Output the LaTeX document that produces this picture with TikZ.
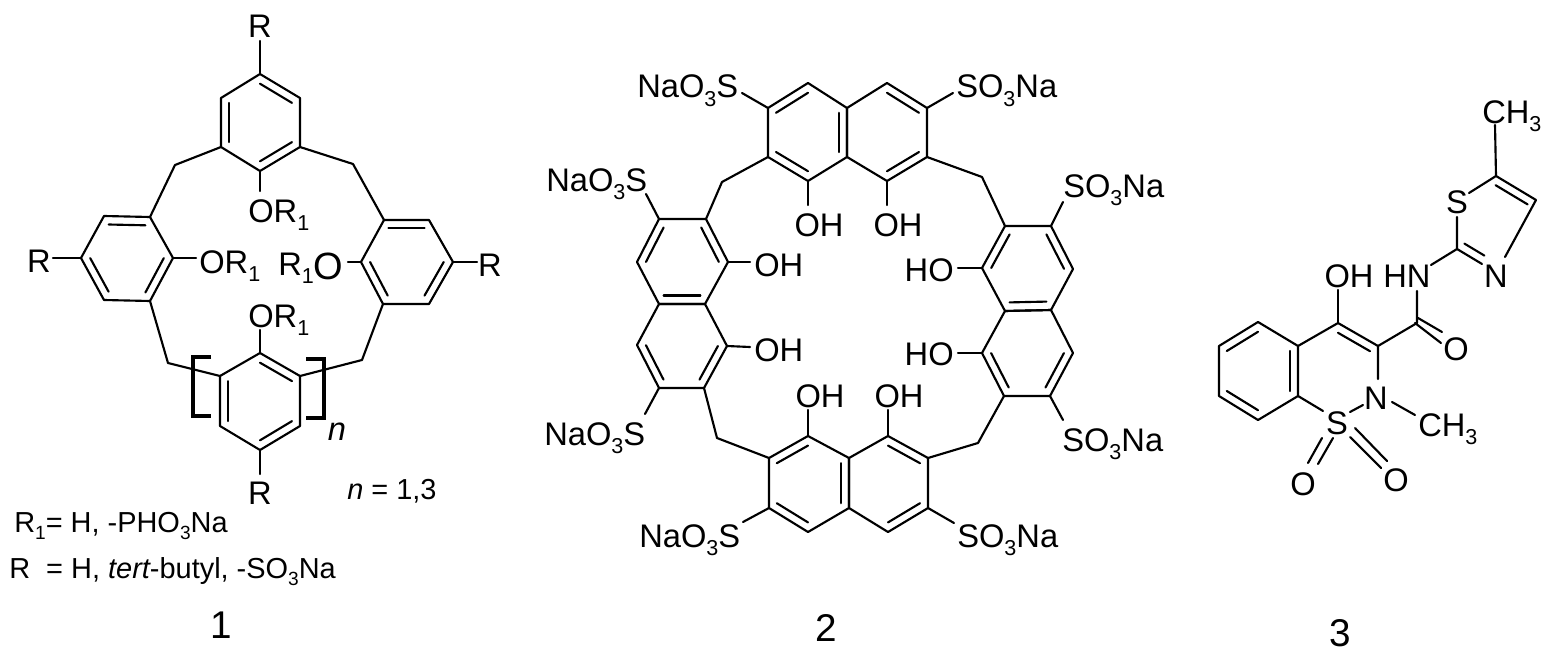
\documentclass[tikz,border=0pt]{standalone}
\usepackage{fontspec}
\usepackage{graphicx}
\setmainfont{Liberation Sans}
\usetikzlibrary{calc}
\newcommand\sbb[1]{\raisebox{-.25em}{\scalebox{.66}{#1}}}
\newcommand\atoms[1]{\foreach \n/\x/\y in {#1}{\coordinate (\n) at (\x,\y);}}
% ring: name, six vertices in order; centre = midpoint of vertices 1 and 4
\newcommand\ringat[7]{%
  \coordinate (#11) at (#2);\coordinate (#12) at (#3);\coordinate (#13) at (#4);
  \coordinate (#14) at (#5);\coordinate (#15) at (#6);\coordinate (#16) at (#7);
  \coordinate (#1c) at ($(#11)!.5!(#14)$);
  \draw[bond] (#11)--(#12)--(#13)--(#14)--(#15)--(#16)--cycle;}
\newcommand\dbl[3]{\draw[bond] ($(#1c)!.8!(#1#2)$)--($(#1c)!.8!(#1#3)$);}
\newcommand\dbc[3]{\draw[bond] ($(#1)!.8!(#2)$)--($(#1)!.8!(#3)$);}
\tikzset{
  bond/.style={line width=1.6pt,line cap=round,line join=round},
  brack/.style={line width=2.5pt,line join=miter},
  lab/.style={inner sep=0pt,font=\fontsize{24.5}{24.5}\selectfont},
  txt/.style={inner sep=0pt,font=\fontsize{21.7}{21.7}\selectfont},
  num/.style={inner sep=0pt,font=\fontsize{29}{29}\selectfont},
}
\begin{document}
\begin{tikzpicture}[x=0.75pt,y=-0.75pt]
\useasboundingbox (0,0) rectangle (1552,660);
%% ---------- compound 1 ----------
\ringat{t}{260,74}{300,98}{300,147}{260,171}{221,147}{221,98}
\dbl{t}{1}{2}\dbl{t}{3}{4}\dbl{t}{5}{6}
\ringat{l}{104,216}{150,217}{173,258}{150,301}{104,300}{81,258}
\dbl{l}{1}{2}\dbl{l}{3}{4}\dbl{l}{5}{6}
\ringat{r}{384,220}{429,220}{453,262}{429,304}{383,304}{361,262}
\dbl{r}{1}{2}\dbl{r}{3}{4}\dbl{r}{5}{6}
\ringat{u}{260,353}{300,376}{300,426}{260,450}{220,426}{220,376}
\dbl{u}{1}{2}\dbl{u}{3}{4}\dbl{u}{5}{6}
\atoms{m1/175/165,m2/353/164,m3/168/363,m4/362/360,
  e1/260/41,e2/260/191,e3/53/258,e4/196/258,e5/348/262,e6/477/262,e7/260/330,e8/260/474,
  bl1/211/357,bl2/193/357,bl3/193/416,bl4/211/416,
  br1/306/359,br2/324/359,br3/324/418,br4/306/418}
\draw[bond] (t5)--(m1)--(l2);
\draw[bond] (t3)--(m2)--(r1);
\draw[bond] (l4)--(m3)--(u6);
\draw[bond] (r5)--(m4)--(u2);
\draw[bond] (t1)--(e1);
\draw[bond] (t4)--(e2);
\draw[bond] (l6)--(e3);
\draw[bond] (l3)--(e4);
\draw[bond] (r6)--(e5);
\draw[bond] (r3)--(e6);
\draw[bond] (u1)--(e7);
\draw[bond] (u4)--(e8);
\draw[brack] (bl1)--(bl2)--(bl3)--(bl4);
\draw[brack] (br1)--(br2)--(br3)--(br4);
\node[lab,anchor=base] (rTop) at (260,38) {R};
\node[lab,anchor=base west] (orTop) at (248,222) {OR\sbb{1}};
\node[lab,anchor=base] (rLeft) at (39,272) {R};
\node[lab,anchor=base west] (orLeft) at (199,273) {OR\sbb{1}};
\node[lab,anchor=base west] (orRight) at (278,275) {R\sbb{1}\raisebox{-3pt}{\fontsize{28.5}{28.5}\selectfont O}};
\node[lab,anchor=base] (rRight) at (490,276) {R};
\node[lab,anchor=base west] (orBot) at (248,327) {OR\sbb{1}};
\node[lab,anchor=base] (rBot) at (260,504) {R};
\node[lab,anchor=base] (nIdx) at (337,440) {\itshape n};
\node[txt,anchor=base west] (nVal) at (347,499) {\itshape n\upshape\ = 1,3};
\node[txt,anchor=base west] (defA) at (14,532) {R\sbb{1}= H, -PHO\sbb{3}Na};
\node[txt,anchor=base west] (defB) at (9,578) {R\ \ = H, \itshape tert\upshape-butyl, -SO\sbb{3}Na};
\node[num] (cpdA) at (221,625) {1};
%% ---------- compound 2 ----------
\ringat{a}{808,83}{847,108}{847,157}{808,181}{768,157}{768,108}
\dbl{a}{6}{1}\dbl{a}{4}{5}\dbl{a}{2}{3}
\ringat{b}{887,83}{927,108}{927,157}{887,181}{847,157}{847,108}
\dbl{b}{1}{2}\dbl{b}{3}{4}
\ringat{c}{659,219}{706,219}{728,262}{705,304}{659,304}{637,262}
\dbl{c}{2}{3}\dbl{c}{6}{1}\dbl{c}{4}{5}
\ringat{d}{659,304}{705,304}{727,346}{704,388}{659,388}{637,345}
\dbl{d}{3}{4}\dbl{d}{5}{6}
\ringat{e}{808,436}{849,458}{849,508}{808,532}{769,508}{769,458}
\dbl{e}{6}{1}\dbl{e}{2}{3}\dbl{e}{4}{5}
\ringat{f}{888,436}{928,458}{928,508}{888,532}{849,508}{849,458}
\dbl{f}{1}{2}\dbl{f}{3}{4}
\ringat{g}{1005,226}{1051,226}{1073,269}{1051,310}{1005,311}{982,268}
\dbl{g}{6}{1}\dbl{g}{2}{3}\dbl{g}{4}{5}
\ringat{h}{1005,311}{1051,310}{1073,353}{1050,396}{1004,396}{982,353}
\dbl{h}{3}{4}\dbl{h}{5}{6}
\atoms{n1/722/182,n2/982/177,n3/717/438,n4/978/443,
  s1/742/93,s2/953/93,s3/646/194,s4/1063/202,s5/645/414,s6/1063/420,s7/743/522,s8/954/523,
  o1/808/205,o2/887/205,o3/750/262,o4/958/268,o5/750/347,o6/958/353,o7/808/410,o8/888/410}
\draw[bond] (a5)--(n1)--(c2);
\draw[bond] (b3)--(n2)--(g1);
\draw[bond] (d4)--(n3)--(e6);
\draw[bond] (f2)--(n4)--(h5);
\draw[bond] (a6)--(s1);\draw[bond] (b2)--(s2);
\draw[bond] (c1)--(s3);\draw[bond] (g2)--(s4);
\draw[bond] (d5)--(s5);\draw[bond] (h4)--(s6);
\draw[bond] (e5)--(s7);\draw[bond] (f3)--(s8);
\draw[bond] (a4)--(o1);\draw[bond] (b4)--(o2);
\draw[bond] (c3)--(o3);\draw[bond] (g6)--(o4);
\draw[bond] (d3)--(o5);\draw[bond] (h6)--(o6);
\draw[bond] (e1)--(o7);\draw[bond] (f1)--(o8);
\node[lab,anchor=base west] (na1) at (637,98) {NaO\sbb{3}S};
\node[lab,anchor=base west] (na2) at (956,98) {SO\sbb{3}Na};
\node[lab,anchor=base west] (na3) at (546,191) {NaO\sbb{3}S};
\node[lab,anchor=base west] (na4) at (1063,197) {SO\sbb{3}Na};
\node[lab,anchor=base west] (na5) at (544,445) {NaO\sbb{3}S};
\node[lab,anchor=base west] (na6) at (1062,451) {SO\sbb{3}Na};
\node[lab,anchor=base west] (na7) at (639,547) {NaO\sbb{3}S};
\node[lab,anchor=base west] (na8) at (957,547) {SO\sbb{3}Na};
\node[lab,anchor=base] (oh1) at (819,236) {OH};
\node[lab,anchor=base] (oh2) at (898,236) {OH};
\node[lab,anchor=base west] (oh3) at (754,276) {OH};
\node[lab,anchor=base east] (oh4) at (954,281) {HO};
\node[lab,anchor=base west] (oh5) at (754,361) {OH};
\node[lab,anchor=base east] (oh6) at (954,365) {HO};
\node[lab,anchor=base] (oh7) at (820,407) {OH};
\node[lab,anchor=base] (oh8) at (899,407) {OH};
\node[num] (cpdB) at (826,628) {2};
%% ---------- compound 3 ----------
\ringat{p}{1258,322}{1298,346}{1298,396}{1258,420}{1219,396}{1219,346}
\dbl{p}{6}{1}\dbl{p}{2}{3}\dbl{p}{4}{5}
\atoms{q1/1338/323,q2/1378/346,qx/1338/372,
  q3/1378/379,q4/1363/405,q5/1350/412,q6/1323/411,
  q7/1338/290,q8/1417/323,q9/1417/291,
  w1/1431/265,w2/1457/249,w3/1457/217,w4/1469/193,w5/1496/176,w6/1536/200,
  w7/1505/257,w8/1482/264,wx/1494/222,w9/1495/125,
  v1/1392/402,v2/1415/415,
  co1/1418/318,co2/1442/332,co3/1415/323,co4/1441/343,
  sa1/1322/438,sa2/1308/463,sa3/1333/438,sa4/1318/464,
  sb1/1355/428,sb2/1387/461,sb3/1350/437,sb4/1381/468}
\draw[bond] (p2)--(q1)--(q2)--(q3);
\draw[bond] (q4)--(q5);
\draw[bond] (q6)--(p3);
\dbc{qx}{q1}{q2}
\draw[bond] (q1)--(q7);
\draw[bond] (q2)--(q8)--(q9);
\draw[bond] (co1)--(co2);
\draw[bond] (co3)--(co4);
\draw[bond] (w1)--(w2)--(w3);
\draw[bond] (w4)--(w5)--(w6)--(w7);
\draw[bond] (w2)--(w8);
\dbc{wx}{w5}{w6}
\dbc{wx}{w2}{w8}
\draw[bond] (w5)--(w9);
\draw[bond] (v1)--(v2);
\draw[bond] (sa1)--(sa2);
\draw[bond] (sa3)--(sa4);
\draw[bond] (sb1)--(sb2);
\draw[bond] (sb3)--(sb4);
\node[lab,anchor=base] (ohq) at (1349,287) {OH};
\node[lab,anchor=base west] (hn) at (1383,287) {HN};
\node[lab,anchor=base] (ocarb) at (1456,360) {O};
\node[lab,anchor=base] (nring) at (1496,287) {N};
\node[lab,anchor=base] (sring) at (1457,213) {S};
\node[lab,anchor=base west] (meA) at (1482,123) {CH\sbb{3}};
\node[lab,anchor=base] (nsul) at (1376,409) {N};
\node[lab,anchor=base] (ssul) at (1337,434) {S};
\node[lab,anchor=base west] (meB) at (1418,436) {CH\sbb{3}};
\node[lab,anchor=base] (oa) at (1303,495) {O};
\node[lab,anchor=base] (ob) at (1396,491) {O};
\node[num] (cpdC) at (1340,633) {3};
\end{tikzpicture}
\end{document}
